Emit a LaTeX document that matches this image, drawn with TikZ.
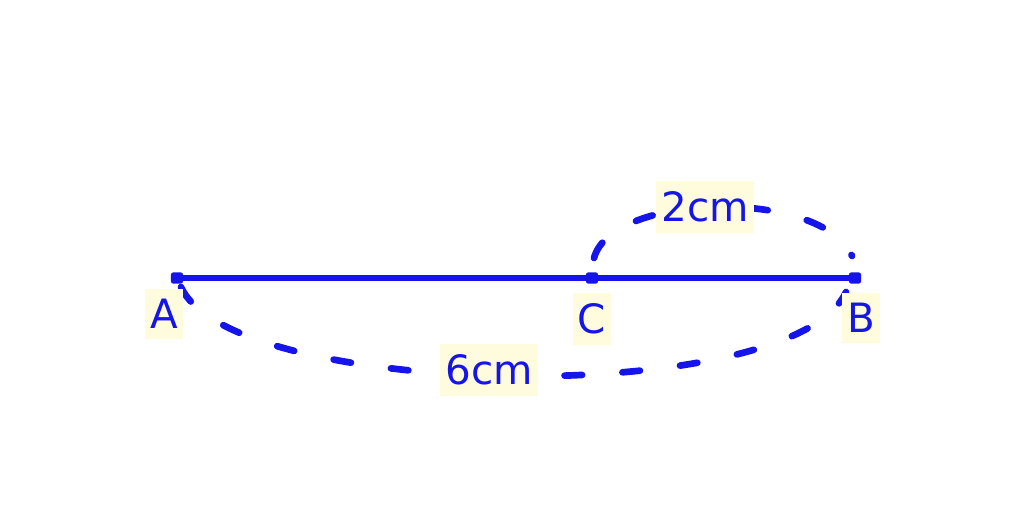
\documentclass[tikz,border=0pt]{standalone}
\usepackage{fontspec}
\setmainfont{DejaVu Sans}
\definecolor{penblue}{RGB}{20,20,235}
\definecolor{labelbg}{RGB}{255,252,222}
\tikzset{
  seg/.style={draw=penblue, line width=3pt, line cap=round},
  arcdash/.style={draw=penblue, line width=3.8pt, line cap=round, dash pattern=on 10pt off 23pt},
  lbl/.style={fill=labelbg, text=penblue, font=\fontsize{23}{26}\selectfont, inner xsep=3pt, inner ysep=6pt},
  dot/.style={fill=penblue, rounded corners=1.5pt, inner sep=0pt, minimum width=7pt, minimum height=6.5pt}
}
\begin{document}
\begin{tikzpicture}[x=0.02cm, y=-0.02cm]
\useasboundingbox[fill=white] (0,0) rectangle (1024,509);
\coordinate (A) at (177,278);
\coordinate (C) at (592,278);
\coordinate (B) at (855,278);
\coordinate (cs) at (594,258);
\coordinate (ce) at (852,256);
\coordinate (ls) at (181,287);
\coordinate (le) at (846,292);
\draw[arcdash] (cs) .. controls (612,192) and (822,188) .. (ce);
\draw[arcdash] (ls) .. controls (232,400) and (792,410) .. (le);
\draw[seg] (A) -- (C) -- (B);
\node[dot] at (A) {};
\node[dot] at (C) {};
\node[dot] at (B) {};
\node[lbl] (la) at (164,314) {A};
\node[lbl] (lc) at (592,319) {C};
\node[lbl] (lb) at (861,318) {B};
\node[lbl] (l2) at (705,207) {2cm};
\node[lbl] (l6) at (489,370) {6cm};
\end{tikzpicture}
\end{document}
